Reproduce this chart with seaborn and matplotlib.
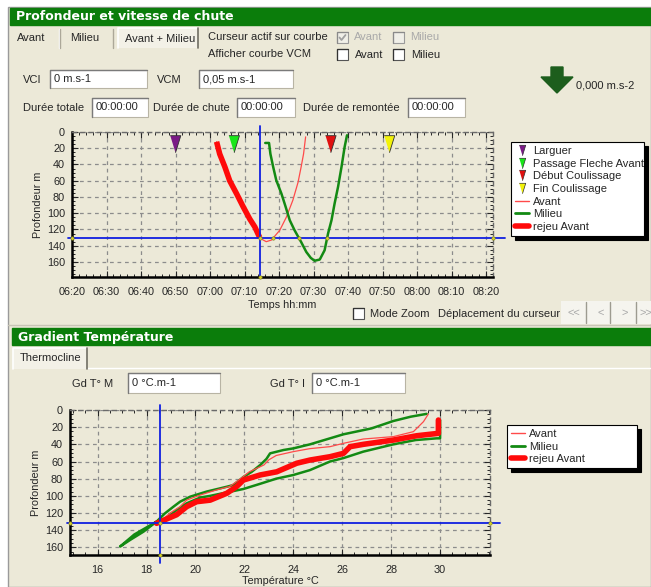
import numpy as np
import pandas as pd
import matplotlib
matplotlib.use("Agg")
import matplotlib.pyplot as plt
import seaborn as sns
from matplotlib.patches import Rectangle, Polygon
from matplotlib.lines import Line2D

# ---------------- données ----------------
HEURES = ["06:20", "06:30", "06:40", "06:50", "07:00", "07:10", "07:20",
          "07:30", "07:40", "07:50", "08:00", "08:10", "08:20"]
PROF_TICKS = [0, 20, 40, 60, 80, 100, 120, 140, 160]
TEMP_TICKS = [16, 18, 20, 22, 24, 26, 28, 30]

EVENEMENTS = ["Larguer", "Passage Fleche Avant", "Début Coulissage", "Fin Coulissage"]
EVT_MIN = [410, 427, 455, 472]          # minutes depuis 00:00
EVT_PROF = [15, 15, 15, 15]
EVT_COUL = ["#7a1a86", "#19e619", "#e01010", "#f2f20a"]

# profondeur / temps (minutes)
REJEU_T = [421.9, 422.8, 424.3, 425.7, 427.7, 429.6, 431.5, 433.0, 434.4]
REJEU_P = [12, 27, 43, 60, 76, 92, 107, 117, 130]
AVANT_T = REJEU_T + [435.4, 436.3, 437.8, 440.2, 442.1, 444.0, 445.5, 446.4, 447.1, 447.7]
AVANT_P = REJEU_P + [133, 135, 133, 121, 105, 84, 62, 43, 27, 6]
MILIEU_T = [436.0, 437.1, 437.5, 438.3, 439.2, 440.7, 441.9, 443.1, 444.5, 446.4, 447.9,
            449.2, 450.3, 451.8, 453.2, 454.2, 455.2, 456.1, 457.1, 458.1, 459.0, 459.7]
MILIEU_P = [13.5, 13.5, 27, 43, 59.5, 76, 92, 108.6, 121, 135.4, 147.7,
            155, 158.5, 157, 145.6, 125, 108.6, 88, 67.5, 43, 18.5, 4]

CURSEUR_T, CURSEUR_P = 434.4, 130.5

# profondeur / température
M_TEMP = [30.0, 30.0, 29.86, 29.0, 28.09, 26.86, 26.05, 25.5, 24.68, 24.0, 23.3, 22.64,
          21.96, 21.28, 20.6, 20.19, 19.64, 19.23, 18.82, 18.41, 17.5, 16.92,
          17.32, 17.87, 18.41, 18.75, 19.1, 19.37, 19.78, 20.46, 21.28, 21.55, 21.96,
          22.3, 22.65, 22.9, 23.05, 23.6, 24.0, 24.68, 25.5, 26.05, 27.2, 28.09, 28.8, 29.45]
M_PROF = [11.7, 33, 33, 35, 40, 48.5, 56, 60, 70, 75.7, 80, 86,
          92, 96, 100, 102, 108.7, 116.5, 126, 130, 145, 159,
          151.5, 141.8, 130, 120.4, 112.6, 106.8, 101, 95, 89.4, 87.4, 78,
          72, 64, 57, 50.5, 46.6, 44.7, 40, 33, 28.3, 21.4, 12.8, 7.8, 4.5]
A_TEMP = [29.52, 29.32, 28.91, 28.09, 26.86, 26.05, 25.5, 24.68, 24.0, 23.3, 23.0, 22.8,
          22.2, 21.8, 21.4, 20.87, 20.2, 19.64, 19.37, 18.96, 18.55, 18.4]
A_PROF = [4.7, 13.6, 25.2, 31, 33.8, 38.8, 42.7, 45, 48.5, 53, 58, 64,
          72, 81, 89, 93, 99, 105, 112.6, 120, 130, 133]
R_TEMP = [29.93, 29.93, 29.04, 28.09, 26.86, 26.32, 26.05, 25.5, 24.68, 24.14, 23.32,
          22.64, 21.96, 21.69, 21.28, 20.6, 20.05, 19.64, 19.23, 18.41]
R_PROF = [11.7, 27.2, 30, 35, 40, 42.7, 50.5, 54.4, 58.3, 62, 72,
          75.7, 81.6, 89, 97, 105, 106.8, 112.6, 122, 132]

CURSEUR_TEMP, CURSEUR_PROF = 18.55, 131.5

# ---------------- style ----------------
BEIGE = "#ece9d8"
VERT_BARRE = "#0b7d0b"
ROUGE = "#ff0a0a"
ROUGE_FIN = "#ff4a4a"
VERT = "#138a13"
BLEU = "#1020e0"

sns.set_style("ticks")
plt.rcParams["font.family"] = ["Liberation Sans", "DejaVu Sans"]
plt.rcParams["font.size"] = 8

W, H = 651, 587
fig = plt.figure(figsize=(W / 100, H / 100), dpi=100)

# fond "fenêtre" en coordonnées pixel
bg = fig.add_axes([0, 0, 1, 1])
bg.set_xlim(0, W)
bg.set_ylim(H, 0)
bg.axis("off")
bg.add_patch(Rectangle((0, 0), W, H, color="white"))
bg.add_patch(Rectangle((8, 7), W - 8, H - 7, facecolor=BEIGE, edgecolor="#9a9a9a", lw=1))


def txt(x, y, s, **kw):
    kw.setdefault("fontsize", 8)
    kw.setdefault("va", "center")
    bg.text(x, y, s, **kw)


def champ(x0, y0, x1, y1, s):
    bg.add_patch(Rectangle((x0, y0), x1 - x0, y1 - y0, facecolor="white",
                           edgecolor="#b8b4a4", lw=0.8))
    bg.plot([x0, x0, x1], [y1, y0, y0], color="#7a7a7a", lw=1)
    txt(x0 + 4, (y0 + y1) / 2, s)


def case(x, y, grise=False, cochee=False):
    bg.add_patch(Rectangle((x, y), 11, 11, facecolor="#f0efe8" if grise else "white",
                           edgecolor="#9a9a9a" if grise else "#555555", lw=0.8))
    bg.plot([x, x, x + 11], [y + 11, y, y], color="#8a8a8a" if grise else "#333333", lw=0.9)
    if cochee:
        bg.plot([x + 2.5, x + 4.5, x + 8.5], [y + 5.5, y + 8, y + 3],
                color="#a0a0a0", lw=1.3)


# panneau 1
bg.add_patch(Rectangle((10, 8), W - 10, 17, color=VERT_BARRE))
txt(16, 17, "Profondeur et vitesse de chute", color="white", fontsize=9,
    fontweight="bold", family="DejaVu Sans")
txt(17, 38, "Avant")
bg.plot([59, 59], [29, 48], color="white", lw=1)
bg.plot([60, 60], [29, 48], color="#aca899", lw=1)
txt(70, 38, "Milieu")
bg.plot([113, 113], [29, 48], color="#aca899", lw=1)
bg.add_patch(Rectangle((118, 28), 80, 20, facecolor="#f3f1e7", edgecolor="none"))
bg.plot([118, 118, 198], [48, 28, 28], color="white", lw=1.2)
bg.plot([198, 198], [28, 48], color="#716f64", lw=1.2)
txt(125, 39, "Avant + Milieu")

txt(208, 37, "Curseur actif sur courbe")
case(337, 32, grise=True, cochee=True)
txt(354, 37, "Avant", color="#a9a9a9")
case(393, 32, grise=True)
txt(410, 37, "Milieu", color="#a9a9a9")
txt(208, 54, "Afficher courbe VCM")
case(337, 49)
txt(355, 55, "Avant")
case(393, 49)
txt(411, 55, "Milieu")

txt(23, 80, "VCI")
champ(50, 70, 147, 88, "0 m.s-1")
txt(157, 80, "VCM")
champ(199, 70, 293, 88, "0,05 m.s-1")
bg.add_patch(Polygon([(551, 67), (563, 67), (563, 77), (573, 77), (557, 93), (541, 77), (551, 77)],
                     closed=True, color="#1d5e1d"))
txt(576, 85, "0,000 m.s-2")

txt(23, 108, "Durée totale")
champ(92, 98, 148, 117, "00:00:00")
txt(153, 108, "Durée de chute")
champ(237, 98, 295, 117, "00:00:00")
txt(303, 108, "Durée de remontée")
champ(408, 98, 465, 117, "00:00:00")

case(353, 308)
txt(370, 314, "Mode Zoom")
txt(438, 314, "Déplacement du curseur")
bg.add_patch(Rectangle((561, 301), W - 561, 23, facecolor="#f5f4ee", edgecolor="none"))
for xs in [586, 610, 636]:
    bg.plot([xs, xs], [302, 323], color="#9d9b90", lw=1)
for xs, s in [(567, "<<"), (597, "<"), (621, ">"), (639, ">>")]:
    txt(xs, 313, s, color="#a8a8a8")

bg.plot([8, W], [325, 325], color="#c8c5b6", lw=1)

# panneau 2
bg.add_patch(Rectangle((12, 328), W - 12, 17, color=VERT_BARRE))
txt(18, 337, "Gradient Température", color="white", fontsize=9,
    fontweight="bold", family="DejaVu Sans")
bg.plot([87, W], [368, 368], color="white", lw=1)
bg.add_patch(Rectangle((13, 348), 74, 21, facecolor="#f3f1e7", edgecolor="none"))
bg.plot([13, 13, 87], [369, 348, 348], color="white", lw=1.2)
bg.plot([87, 87], [348, 369], color="#716f64", lw=1.2)
txt(20, 358, "Thermocline")
txt(72, 384, "Gd T° M")
champ(128, 373, 220, 393, "0 °C.m-1")
txt(270, 384, "Gd T° I")
champ(312, 373, 405, 393, "0 °C.m-1")


def px_axes(x0, y0, x1, y1):
    return fig.add_axes([x0 / W, 1 - y1 / H, (x1 - x0) / W, (y1 - y0) / H])


def style_axe(ax, xmin, ymin):
    ax.set_facecolor(BEIGE)
    ax.grid(True, color="#8c8c8c", lw=0.9, ls=(0, (3, 3)))
    for s in ["left", "bottom"]:
        ax.spines[s].set_color("black")
        ax.spines[s].set_linewidth(1.8)
    for s in ["top", "right"]:
        ax.spines[s].set_color("#6a6a6a")
        ax.spines[s].set_linewidth(1.0)
        ax.spines[s].set_linestyle((0, (3, 3)))
    ax.xaxis.set_minor_locator(plt.MultipleLocator(xmin))
    ax.yaxis.set_minor_locator(plt.MultipleLocator(ymin))
    ax.tick_params(which="major", direction="in", length=4, width=0.8,
                   labelsize=7.8, pad=5, top=True, right=True)
    ax.tick_params(axis="x", which="major", pad=7)
    ax.tick_params(which="minor", direction="in", length=2.5, width=0.7,
                   top=True, right=True)
    ax.set_axisbelow(True)


def croisements(xs, ys, niveau):
    pts = []
    for i in range(len(xs) - 1):
        a, b = ys[i] - niveau, ys[i + 1] - niveau
        if a * b < 0:
            f = a / (a - b)
            pts.append(xs[i] + f * (xs[i + 1] - xs[i]))
    return pts


# ---------------- graphe profondeur / temps ----------------
ax1 = px_axes(72, 132, 493, 277)
style_axe(ax1, 2, 5)
tick_min = [int(h[:2]) * 60 + int(h[3:]) for h in HEURES]

df_avant = pd.DataFrame({"t": AVANT_T, "p": AVANT_P})
df_milieu = pd.DataFrame({"t": MILIEU_T, "p": MILIEU_P})
df_rejeu = pd.DataFrame({"t": REJEU_T, "p": REJEU_P})
sns.lineplot(data=df_avant, x="t", y="p", sort=False, estimator=None, color=ROUGE_FIN,
             lw=0.9, ax=ax1)
sns.lineplot(data=df_milieu, x="t", y="p", sort=False, estimator=None, color=VERT,
             lw=1.8, ax=ax1)
sns.lineplot(data=df_rejeu, x="t", y="p", sort=False, estimator=None, color=ROUGE,
             lw=4, ax=ax1, solid_capstyle="butt")

tri = [(-0.62, 1), (0.62, 1), (0, -1)]
df_evt = pd.DataFrame({"t": EVT_MIN, "p": EVT_PROF, "evt": EVENEMENTS})
sns.scatterplot(data=df_evt, x="t", y="p", hue="evt", palette=EVT_COUL, marker=tri,
                s=150, edgecolor="#303030", linewidth=0.6, legend=False, ax=ax1, zorder=5)

ax1.set_xlim(380, 502)
ax1.set_ylim(178.5, 0)
ax1.set_xticks(tick_min)
ax1.set_xticklabels(HEURES)
ax1.set_yticks(PROF_TICKS)
ax1.set_xlabel("Temps hh:mm", fontsize=7.8, labelpad=2)
ax1.set_ylabel("Profondeur m", fontsize=7.8, labelpad=3)

ax1.plot([CURSEUR_T, CURSEUR_T], [-8, 178.5], color=BLEU, lw=1.3, clip_on=False, zorder=6)
ax1.plot([378.8, 505.5], [CURSEUR_P, CURSEUR_P], color=BLEU, lw=1.3, clip_on=False, zorder=6)
pts = [380, 502] + croisements(AVANT_T, AVANT_P, CURSEUR_P) + croisements(MILIEU_T, MILIEU_P, CURSEUR_P)
ax1.scatter(pts, [CURSEUR_P] * len(pts), s=6, color="#d6d22a", edgecolor="#7a7a20",
            lw=0.4, zorder=7, clip_on=False)
ax1.scatter([CURSEUR_T], [178.5], s=6, color="#d6d22a", edgecolor="#7a7a20",
            lw=0.4, zorder=7, clip_on=False)

poignees1 = [Line2D([], [], ls="none", marker=tri, markersize=7.5, mfc=c, mec="#303030", mew=0.5)
             for c in EVT_COUL]
poignees1 += [Line2D([], [], color=ROUGE_FIN, lw=1),
              Line2D([], [], color=VERT, lw=2),
              Line2D([], [], color=ROUGE, lw=4)]
leg1 = fig.legend(poignees1, EVENEMENTS + ["Avant", "Milieu", "rejeu Avant"],
                  loc="upper left", bbox_to_anchor=(511 / W, 1 - 238 / H, 133 / W, 96 / H),
                  mode="expand", fontsize=8, labelspacing=0.24, handlelength=1.3,
                  handletextpad=0.3, borderpad=0.35, borderaxespad=0, frameon=True,
                  fancybox=False, edgecolor="black", framealpha=1,
                  shadow={"color": "black", "alpha": 1, "ox": 3, "oy": -3})
leg1.get_frame().set_linewidth(0.8)

# ---------------- graphe profondeur / température ----------------
ax2 = px_axes(70, 410, 490, 555)
style_axe(ax2, 0.5, 5)
df_m = pd.DataFrame({"T": M_TEMP, "p": M_PROF})
df_a = pd.DataFrame({"T": A_TEMP, "p": A_PROF})
df_r = pd.DataFrame({"T": R_TEMP, "p": R_PROF})
sns.lineplot(data=df_m, x="T", y="p", sort=False, estimator=None, color=VERT, lw=1.8, ax=ax2)
sns.lineplot(data=df_a, x="T", y="p", sort=False, estimator=None, color=ROUGE_FIN, lw=0.9, ax=ax2)
sns.lineplot(data=df_r, x="T", y="p", sort=False, estimator=None, color=ROUGE, lw=4, ax=ax2)

ax2.set_xlim(14.87, 32.04)
ax2.set_ylim(168.9, 0)
ax2.set_xticks(TEMP_TICKS)
ax2.set_yticks(PROF_TICKS)
ax2.set_xlabel("Température °C", fontsize=7.8, labelpad=1)
ax2.set_ylabel("Profondeur m", fontsize=7.8, labelpad=3)

ax2.plot([CURSEUR_TEMP, CURSEUR_TEMP], [-5.8, 178], color=BLEU, lw=1.3, clip_on=False, zorder=6)
ax2.plot([14.75, 32.45], [CURSEUR_PROF, CURSEUR_PROF], color=BLEU, lw=1.3, clip_on=False, zorder=6)
ax2.scatter([14.87, 32.04, CURSEUR_TEMP, CURSEUR_TEMP], [CURSEUR_PROF, CURSEUR_PROF, CURSEUR_PROF, 168.9],
            s=6, color="#d6d22a", edgecolor="#7a7a20", lw=0.4, zorder=7, clip_on=False)

poignees2 = [Line2D([], [], color=ROUGE_FIN, lw=1),
             Line2D([], [], color=VERT, lw=2),
             Line2D([], [], color=ROUGE, lw=4)]
leg2 = fig.legend(poignees2, ["Avant", "Milieu", "rejeu Avant"],
                  loc="upper left", bbox_to_anchor=(507 / W, 1 - 467 / H, 130 / W, 42 / H),
                  mode="expand", fontsize=8, labelspacing=0.24, handlelength=1.3,
                  handletextpad=0.3, borderpad=0.35, borderaxespad=0, frameon=True,
                  fancybox=False, edgecolor="black", framealpha=1,
                  shadow={"color": "black", "alpha": 1, "ox": 3, "oy": -3})
leg2.get_frame().set_linewidth(0.8)

fig.savefig("out.png", dpi=100)
